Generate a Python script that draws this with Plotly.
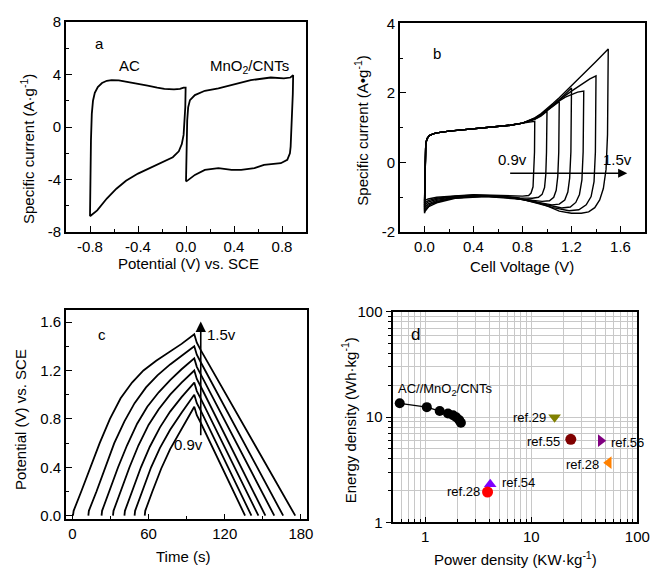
import math
import plotly.graph_objects as go

FONT = "Liberation Sans, Arial, sans-serif"
W, H = 654, 568

# ---------------- (a) CV of the two electrodes ----------------
AC_X = [-0.800, -0.797, -0.792, -0.785, -0.775, -0.760, -0.735, -0.700, -0.660, -0.620,
        -0.560, -0.480, -0.400, -0.320, -0.240, -0.180, -0.100, -0.050, -0.020, -0.003,
        -0.006, -0.012, -0.020, -0.035, -0.060, -0.110, -0.200, -0.300, -0.400,
        -0.500, -0.580, -0.660, -0.740, -0.800]
AC_Y = [-6.80, -4.00, -1.00, 1.00, 2.00, 2.60, 3.05, 3.35, 3.52, 3.57,
        3.55, 3.42, 3.30, 3.15, 3.00, 2.90, 2.87, 2.90, 3.00, 3.00,
        1.50, 0.30, -0.60, -1.30, -1.85, -2.30, -2.70, -3.10, -3.55,
        -4.10, -4.70, -5.45, -6.35, -6.80]
MN_X = [0.000, 0.003, 0.006, 0.010, 0.018, 0.033, 0.074, 0.157, 0.270, 0.377, 0.540,
        0.706, 0.816, 0.870, 0.893, 0.890, 0.885, 0.879, 0.872, 0.866, 0.844, 0.790,
        0.650, 0.570, 0.460, 0.380, 0.270, 0.157, 0.074, 0.020, 0.000]
MN_Y = [-4.15, -2.50, -1.00, 0.50, 1.50, 2.05, 2.43, 2.76, 2.94, 3.19, 3.57,
        3.77, 3.70, 3.77, 3.95, 2.50, 1.00, -0.50, -1.50, -2.00, -2.50, -2.76,
        -2.89, -3.14, -3.27, -3.27, -3.14, -3.27, -3.65, -4.03, -4.15]

# ---------------- (b) CV of the asymmetric cell ----------------
B_UP_X = [0.005, 0.01, 0.02, 0.04, 0.07, 0.10, 0.20, 0.30, 0.40, 0.50, 0.60, 0.70, 0.80]
B_UP_Y = [0.20, 0.52, 0.68, 0.77, 0.82, 0.85, 0.90, 0.93, 0.96, 0.99, 1.02, 1.07, 1.13]

B09_X = [0.85, 0.90, 0.898, 0.893, 0.886, 0.87, 0.85, 0.80, 0.70, 0.55, 0.40, 0.25, 0.10, 0.03, 0.0]
B09_Y = [1.16, 1.18, 0.30, -0.30, -0.70, -0.88, -0.95, -0.97, -0.96, -0.93, -0.93, -0.96, -1.00, -1.05, -1.10]
B10_X = [0.85, 0.90, 0.95, 1.00, 0.996, 0.99, 0.98, 0.96, 0.93, 0.88, 0.78, 0.60, 0.40, 0.25, 0.10, 0.03, 0.0]
B10_Y = [1.18, 1.24, 1.33, 1.47, 0.30, -0.35, -0.72, -0.92, -1.00, -1.03, -1.02, -0.96, -0.94, -0.97, -1.03, -1.10, -1.17]
B11_X = [0.85, 0.90, 0.95, 1.00, 1.05, 1.10, 1.096, 1.088, 1.075, 1.055, 1.02, 0.96, 0.85, 0.65, 0.40, 0.25, 0.10, 0.03, 0.0]
B11_Y = [1.18, 1.25, 1.35, 1.48, 1.62, 1.75, 0.30, -0.40, -0.80, -1.00, -1.10, -1.12, -1.08, -0.99, -0.95, -0.98, -1.06, -1.14, -1.23]
B12_X = [0.85, 0.90, 0.95, 1.00, 1.05, 1.10, 1.15, 1.20, 1.195, 1.185, 1.17, 1.145, 1.10, 1.04, 0.93, 0.70, 0.45, 0.25, 0.10, 0.03, 0.0]
B12_Y = [1.18, 1.25, 1.36, 1.50, 1.65, 1.80, 1.97, 2.14, 0.30, -0.45, -0.85, -1.08, -1.20, -1.22, -1.15, -1.01, -0.96, -1.00, -1.09, -1.19, -1.29]
B13_X = [0.85, 0.90, 0.95, 1.00, 1.05, 1.10, 1.15, 1.20, 1.25, 1.30, 1.295, 1.285, 1.265, 1.235, 1.19, 1.12, 1.00, 0.75, 0.50, 0.25, 0.10, 0.03, 0.0]
B13_Y = [1.18, 1.25, 1.36, 1.50, 1.64, 1.77, 1.88, 1.96, 2.02, 2.05, 0.30, -0.50, -0.92, -1.15, -1.28, -1.31, -1.22, -1.03, -0.97, -1.02, -1.12, -1.23, -1.35]
B14_X = [0.85, 0.90, 0.95, 1.00, 1.05, 1.10, 1.20, 1.30, 1.35, 1.40, 1.395, 1.384, 1.36, 1.32, 1.26, 1.18, 1.05, 0.80, 0.50, 0.25, 0.10, 0.03, 0.0]
B14_Y = [1.19, 1.27, 1.38, 1.52, 1.66, 1.80, 2.05, 2.30, 2.40, 2.49, 0.30, -0.55, -0.98, -1.22, -1.36, -1.39, -1.30, -1.06, -0.98, -1.03, -1.16, -1.28, -1.41]
B15_X = [0.85, 0.90, 0.95, 1.00, 1.05, 1.10, 1.20, 1.30, 1.40, 1.50, 1.494, 1.482, 1.46, 1.43, 1.39, 1.34, 1.28, 1.20, 1.10, 1.00, 0.86, 0.60, 0.40, 0.20, 0.05, 0.005, 0.0]
B15_Y = [1.20, 1.28, 1.40, 1.54, 1.70, 1.86, 2.20, 2.55, 2.90, 3.26, 0.80, -0.20, -0.75, -1.08, -1.30, -1.42, -1.46, -1.46, -1.40, -1.25, -1.08, -0.98, -0.98, -1.04, -1.20, -1.40, -1.46]

# ---------------- (c) galvanostatic charge/discharge ----------------
C09_T = [57.0, 57.4, 63, 70, 77, 86, 96, 98, 101, 136.0]
C09_V = [0.00, 0.04, 0.20, 0.39, 0.55, 0.72, 0.90, 0.83, 0.77, 0.00]
C10_T = [49.0, 49.4, 55, 62, 69, 77, 86, 96, 98, 101, 141.0]
C10_V = [0.00, 0.04, 0.20, 0.40, 0.56, 0.71, 0.85, 1.00, 0.93, 0.87, 0.00]
C11_T = [41.0, 41.4, 47, 54, 61, 69, 77, 86, 96, 98, 101, 146.5]
C11_V = [0.00, 0.04, 0.20, 0.40, 0.57, 0.73, 0.86, 0.98, 1.10, 1.03, 0.97, 0.00]
C12_T = [32.0, 32.4, 38, 45, 52, 60, 68, 77, 86, 96, 98, 101, 152.0]
C12_V = [0.00, 0.04, 0.20, 0.40, 0.58, 0.75, 0.88, 1.00, 1.10, 1.20, 1.13, 1.07, 0.00]
C13_T = [23.0, 23.4, 29, 36, 43, 51, 59, 68, 77, 86, 96, 98, 101, 159.0]
C13_V = [0.00, 0.04, 0.20, 0.40, 0.58, 0.76, 0.90, 1.02, 1.12, 1.21, 1.30, 1.23, 1.17, 0.00]
C14_T = [12.6, 13.0, 19, 26, 33, 41, 49, 58, 67, 77, 87, 96, 98, 101, 166.0]
C14_V = [0.00, 0.04, 0.20, 0.40, 0.60, 0.78, 0.93, 1.06, 1.16, 1.25, 1.33, 1.40, 1.33, 1.27, 0.00]
C15_T = [0.5, 1.0, 7, 14, 21.5, 29.6, 38, 47, 56, 66, 76, 86, 96, 98, 101, 175.5]
C15_V = [0.00, 0.04, 0.20, 0.40, 0.60, 0.80, 0.97, 1.10, 1.20, 1.28, 1.35, 1.42, 1.50, 1.43, 1.37, 0.00]

# ---------------- (d) Ragone plot ----------------
D_POWER = [0.575, 1.035, 1.37, 1.64, 1.83, 1.96, 2.09, 2.17]
D_ENERGY = [13.5, 12.4, 11.4, 10.8, 10.4, 9.94, 9.37, 8.83]
REF_NAMES = ["ref.29", "ref.55", "ref.56", "ref.28", "ref.54", "ref.28"]
REF_POWER = [16.6, 23.6, 45.2, 53.8, 4.1, 3.87]
REF_ENERGY = [9.93, 6.14, 5.96, 3.68, 2.30, 1.94]
REF_SYMBOLS = ["triangle-down", "circle", "triangle-right", "triangle-left", "triangle-up", "circle"]
REF_COLORS = ["#808000", "#800000", "#800080", "#FF8000", "#7F00FF", "#FF0000"]

# tick labels
A_XT = [-0.8, -0.4, 0.0, 0.4, 0.8]
A_XL = ["-0.8", "-0.4", "0.0", "0.4", "0.8"]
A_YT = [-8, -4, 0, 4, 8]
A_YL = ["-8", "-4", "0", "4", "8"]
B_XT = [0.0, 0.4, 0.8, 1.2, 1.6]
B_XL = ["0.0", "0.4", "0.8", "1.2", "1.6"]
B_YT = [-2, 0, 2, 4]
B_YL = ["-2", "0", "2", "4"]
C_XT = [0, 60, 120, 180]
C_XL = ["0", "60", "120", "180"]
C_YT = [0.0, 0.4, 0.8, 1.2, 1.6]
C_YL = ["0.0", "0.4", "0.8", "1.2", "1.6"]
D_T = [1, 10, 100]
D_L = ["1", "10", "100"]


def px_x(p):
    return p / W


def px_y(p):
    return (H - p) / H


fig = go.Figure()
LINE = dict(color="black", width=1.8)

# (a)
fig.add_trace(go.Scatter(x=AC_X, y=AC_Y, mode="lines", line=LINE, xaxis="x", yaxis="y"))
fig.add_trace(go.Scatter(x=MN_X, y=MN_Y, mode="lines", line=LINE, xaxis="x", yaxis="y"))

# (b)
for bx, by in [(B09_X, B09_Y), (B10_X, B10_Y), (B11_X, B11_Y), (B12_X, B12_Y),
               (B13_X, B13_Y), (B14_X, B14_Y), (B15_X, B15_Y)]:
    xs = [bx[-1]] + B_UP_X + bx
    ys = [by[-1]] + B_UP_Y + by
    fig.add_trace(go.Scatter(x=xs, y=ys, mode="lines", line=dict(color="black", width=1.4),
                             xaxis="x2", yaxis="y2"))

# (c)
for ct, cv in [(C09_T, C09_V), (C10_T, C10_V), (C11_T, C11_V), (C12_T, C12_V),
               (C13_T, C13_V), (C14_T, C14_V), (C15_T, C15_V)]:
    fig.add_trace(go.Scatter(x=ct, y=cv, mode="lines", line=LINE, xaxis="x3", yaxis="y3"))

# (d)
fig.add_trace(go.Scatter(x=D_POWER, y=D_ENERGY, mode="lines+markers",
                         line=dict(color="black", width=1.3),
                         marker=dict(color="black", size=10, symbol="circle"),
                         xaxis="x4", yaxis="y4"))
for p, e, s, c in zip(REF_POWER, REF_ENERGY, REF_SYMBOLS, REF_COLORS):
    fig.add_trace(go.Scatter(x=[p], y=[e], mode="markers",
                             marker=dict(color=c, size=11, symbol=s),
                             xaxis="x4", yaxis="y4"))

TICKFONT = dict(family=FONT, size=15, color="black")


def lin_axis(domain, rng, tv, tt, minor_vals, anchor):
    return dict(domain=domain, range=rng, tickvals=tv, ticktext=tt, automargin=False,
                ticks="inside", ticklen=6, tickwidth=1.2, tickcolor="black",
                minor=dict(tickvals=minor_vals, ticks="inside", ticklen=3.5,
                           tickwidth=1.2, tickcolor="black"),
                showline=True, linecolor="black", linewidth=1.6, mirror=True,
                showgrid=False, zeroline=False, tickfont=TICKFONT, anchor=anchor)


minor_log = [0.5, 0.6, 0.7, 0.8, 0.9, 2, 3, 4, 5, 6, 7, 8, 9,
             20, 30, 40, 50, 60, 70, 80, 90]
GRID = "#c8c8c8"

fig.update_layout(
    width=W, height=H, margin=dict(l=0, r=0, t=0, b=0, pad=0, autoexpand=False),
    paper_bgcolor="white", plot_bgcolor="white", showlegend=False,
    font=dict(family=FONT, size=15, color="black"),
    xaxis=lin_axis([px_x(66), px_x(306)], [-1.0, 1.0], A_XT, A_XL,
                   [-0.6, -0.2, 0.2, 0.6], "y"),
    yaxis=lin_axis([px_y(232), px_y(22)], [-8, 8], A_YT, A_YL, [-6, -2, 2, 6], "x"),
    xaxis2=lin_axis([px_x(400), px_x(645)], [-0.2, 1.8], B_XT, B_XL,
                    [0.2, 0.6, 1.0, 1.4], "y2"),
    yaxis2=lin_axis([px_y(232), px_y(23.3)], [-2, 4], B_YT, B_YL, [-1, 1, 3], "x2"),
    xaxis3=lin_axis([px_x(66), px_x(307.3)], [-5, 185], C_XT, C_XL, [30, 90, 150], "y3"),
    yaxis3=lin_axis([px_y(519.3), px_y(310)], [-0.03, 1.70], C_YT, C_YL,
                    [0.2, 0.6, 1.0, 1.4], "x3"),
    xaxis4=dict(domain=[px_x(393.3), px_x(637.3)], type="log", range=[math.log10(0.5), 2],
                tickvals=D_T, ticktext=D_L, ticks="inside", ticklen=6, tickwidth=1.2,
                tickcolor="black", automargin=False,
                minor=dict(tickvals=minor_log, ticks="inside", ticklen=3.5, tickwidth=1.2,
                           tickcolor="black", showgrid=True, gridcolor=GRID, gridwidth=1),
                showgrid=True, gridcolor=GRID, gridwidth=1,
                showline=True, linecolor="black", linewidth=1.6, mirror=True,
                zeroline=False, tickfont=TICKFONT, anchor="y4"),
    yaxis4=dict(domain=[px_y(522.3), px_y(311.7)], type="log", range=[0, 2],
                tickvals=D_T, ticktext=D_L, ticks="outside", ticklen=6, tickwidth=1.2,
                tickcolor="black", automargin=False,
                minor=dict(tickvals=[2, 3, 4, 5, 6, 7, 8, 9, 20, 30, 40, 50, 60, 70, 80, 90],
                           ticks="outside", ticklen=3.5, tickwidth=1.2,
                           tickcolor="black", showgrid=True, gridcolor=GRID, gridwidth=1),
                showgrid=True, gridcolor=GRID, gridwidth=1,
                showline=True, linecolor="black", linewidth=1.6, mirror=True,
                zeroline=False, tickfont=TICKFONT, anchor="x4"),
)

ann = []


def txt(x, y, t, xref, yref, size=15, **kw):
    d = dict(x=x, y=y, text=t, xref=xref, yref=yref, showarrow=False,
             xanchor="center", yanchor="middle",
             font=dict(family=FONT, size=size, color="black"))
    d.update(kw)
    ann.append(d)


# axis titles
txt(px_x(188), px_y(263), "Potential (V) vs. SCE", "paper", "paper")
txt(px_x(27), px_y(149), "Specific current (A·g<sup>-1</sup>)", "paper", "paper", textangle=-90)
txt(px_x(521.7), px_y(266.7), "Cell Voltage (V)", "paper", "paper")
txt(px_x(361.7), px_y(131), "Specific current (A•g<sup>-1</sup>)", "paper", "paper", textangle=-90)
txt(px_x(182.5), px_y(556.7), "Time (s)", "paper", "paper")
txt(px_x(20), px_y(420), "Potential (V) vs. SCE", "paper", "paper", textangle=-90)
txt(px_x(515.7), px_y(558.3), "Power density (KW·kg<sup>-1</sup>)", "paper", "paper")
txt(px_x(348.3), px_y(420), "Energy density (Wh·kg<sup>-1</sup>)", "paper", "paper", textangle=-90)

# panel texts
txt(-0.72, 6.35, "a", "x", "y")
txt(-0.47, 4.71, "AC", "x", "y")
txt(0.533, 4.58, "MnO<sub>2</sub>/CNTs", "x", "y")
txt(0.10, 3.14, "b", "x2", "y2")
txt(0.715, 0.09, "0.9v", "x2", "y2")
txt(1.573, 0.09, "1.5v", "x2", "y2")
txt(23, 1.50, "c", "x3", "y3")
txt(117.3, 1.495, "1.5v", "x3", "y3")
txt(91.1, 0.585, "0.9v", "x3", "y3")
txt(0.093, 0.894, "d", "x4 domain", "y4 domain", size=17)
txt(math.log10(D_POWER[0]), math.log10(D_ENERGY[0]), "AC//MnO<sub>2</sub>/CNTs", "x4", "y4",
    size=13, xanchor="left", xshift=-4, yshift=14)

shifts = [(-7, 0, "right"), (-9, -2, "right"), (8, -2, "left"), (-8, -2, "right"),
          (10, 2, "left"), (-6, 0, "right")]
for name, p, e, (xs, ys, xa) in zip(REF_NAMES, REF_POWER, REF_ENERGY, shifts):
    txt(math.log10(p), math.log10(e), name, "x4", "y4", size=13, xanchor=xa, xshift=xs, yshift=ys)

# arrows
ann.append(dict(x=1.655, y=-0.31, ax=0.687, ay=-0.31, xref="x2", yref="y2",
                axref="x2", ayref="y2", showarrow=True, arrowhead=2, arrowsize=1.3,
                arrowwidth=1.4, arrowcolor="black", text=""))
ann.append(dict(x=101.1, y=1.605, ax=101.1, ay=0.653, xref="x3", yref="y3",
                axref="x3", ayref="y3", showarrow=True, arrowhead=2, arrowsize=1.3,
                arrowwidth=1.6, arrowcolor="black", text=""))

fig.update_layout(annotations=ann)
fig.write_html("out.html", config={"displayModeBar": False},
               post_script="document.body.style.margin='0';document.body.style.overflow='hidden';")
